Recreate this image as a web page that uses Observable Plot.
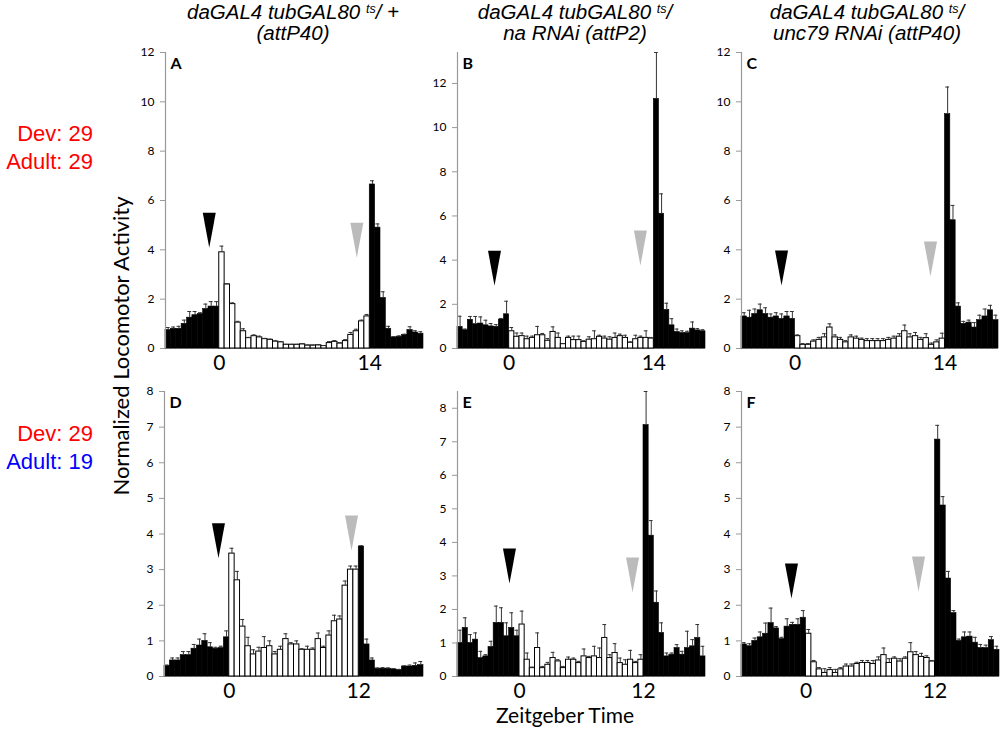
<!DOCTYPE html>
<html><head><meta charset="utf-8">
<script src="https://cdn.jsdelivr.net/npm/d3@7"></script>
<script src="https://cdn.jsdelivr.net/npm/@observablehq/plot@0.6"></script>
<style>
body{margin:0;background:#fff;}
#root{position:relative;width:1000px;height:731px;overflow:hidden;background:#fff;}
.lbl{position:absolute;white-space:nowrap;}
.hdr{position:absolute;top:1px;transform:translateX(-50%);font-family:"Liberation Sans",Arial,sans-serif;font-style:italic;font-size:20.5px;line-height:21px;text-align:center;white-space:nowrap;}
.hdr sup{font-size:12.5px;line-height:0;vertical-align:6px;}
.cond{position:absolute;left:0;width:93px;text-align:right;font-family:"Liberation Sans",Arial,sans-serif;font-size:22px;line-height:28px;}
svg{position:absolute;}
</style></head><body><div id="root"></div>
<script>
// ---- categories: 30-min bin starts (Zeitgeber Time, hours)
const binsLD14 = d3.range(-5, 19, 0.5);   // top row: 14h light : 10h dark
const binsLD12 = d3.range(-6, 18, 0.5);   // bottom row: 12h light : 12h dark
const lightsOffTop = 14, lightsOffBottom = 12;
const xTicksTop = [0, 14], xTicksBottom = [0, 12];

// ---- Panel A
const aMean = [0.75,0.8,0.8,1.0,1.25,1.35,1.4,1.6,1.7,1.7,
  3.9,2.6,1.8,1.05,0.7,0.42,0.5,0.45,0.38,0.35,0.28,0.25,0.15,0.15,0.15,0.17,0.12,0.12,0.13,0.1,0.22,0.27,0.2,0.3,0.55,0.7,1.1,1.3,
  6.65,4.9,2.05,0.8,0.45,0.48,0.55,0.75,0.65,0.6];
const aSem = [0.1,0.07,0.1,0.15,0.25,0.15,0.05,0.2,0.2,0.2,
  0.25,0.02,0.05,0.05,0.1,0.03,0.05,0.05,0.03,0.03,0.03,0.03,0.02,0.02,0.02,0.02,0.02,0.02,0.02,0.02,0.06,0.05,0.04,0.06,0.1,0.08,0.05,0.08,
  0.15,0.15,0.25,0.1,0.03,0.03,0.03,0.13,0.07,0.08];
// ---- Panel B
const bMean = [0.98,0.83,1.3,1.1,1.13,1.05,1.0,0.98,1.31,1.55,
  0.78,0.53,0.56,0.42,0.48,0.6,0.6,0.35,0.75,0.48,0.2,0.48,0.38,0.38,0.3,0.4,0.42,0.53,0.45,0.4,0.48,0.56,0.48,0.26,0.42,0.48,0.48,0.45,
  11.3,6.1,1.75,1.05,0.75,0.7,0.7,0.9,0.82,0.78];
const bSem = [0.48,0.05,0.15,0.35,0.3,0.23,0.13,0.1,0.05,0.59,
  0.17,0.17,0.14,0.14,0.08,0.4,0.08,0.1,0.23,0.22,0.02,0.08,0.18,0.18,0.05,0.13,0.38,0.07,0.11,0.13,0.22,0.09,0.12,0.04,0.18,0.08,0.32,0.05,
  2.1,0.9,0.3,0.3,0.13,0.1,0.08,0.3,0.08,0.07];
// ---- Panel C
const cMean = [1.3,1.25,1.4,1.55,1.4,1.25,1.3,1.2,1.3,1.2,
  0.5,0.15,0.15,0.28,0.35,0.45,0.85,0.45,0.35,0.25,0.45,0.4,0.35,0.3,0.3,0.3,0.3,0.35,0.4,0.48,0.7,0.45,0.5,0.35,0.42,0.15,0.25,0.4,
  9.5,5.2,1.7,1.0,1.05,0.85,1.15,1.3,1.55,1.15];
const cSem = [0.15,0.3,0.2,0.25,0.25,0.15,0.15,0.2,0.2,0.3,
  0.05,0.05,0.05,0.07,0.1,0.15,0.15,0.1,0.1,0.07,0.1,0.1,0.07,0.1,0.1,0.1,0.1,0.1,0.1,0.12,0.25,0.15,0.15,0.1,0.18,0.07,0.1,0.22,
  1.1,0.6,0.15,0.1,0.1,0.2,0.2,0.3,0.2,0.2];
// ---- Panel D
const dMean = [0.3,0.45,0.45,0.6,0.6,0.78,0.87,1.0,0.82,0.78,0.8,1.1,
  3.45,2.7,1.4,0.85,0.62,0.7,0.8,0.85,0.62,0.75,1.05,0.9,0.9,0.75,0.75,0.75,1.05,0.8,1.15,1.55,1.6,2.55,3.0,3.0,
  3.65,0.9,0.45,0.22,0.22,0.22,0.2,0.18,0.28,0.28,0.3,0.32];
const dSem = [0.02,0.07,0.07,0.1,0.1,0.12,0.18,0.2,0.13,0.04,0.05,0.18,
  0.15,0.25,0.2,0.25,0.13,0.12,0.32,0.15,0.08,0.1,0.15,0.05,0.1,0.03,0.1,0.05,0.17,0.05,0.13,0.17,0.1,0.13,0.1,0.1,
  0.02,0.15,0.07,0.02,0.03,0.02,0.02,0.02,0.02,0.04,0.08,0.1];
// ---- Panel E
const eMean = [1.0,1.45,1.0,1.1,0.55,0.6,0.88,1.6,1.6,1.2,1.45,1.2,
  1.55,0.5,0.25,0.85,0.25,0.35,0.55,0.45,0.25,0.5,0.5,0.4,0.6,0.55,0.6,0.55,1.15,0.55,0.7,0.4,0.35,0.5,0.4,0.5,
  7.5,4.2,2.2,1.3,0.6,0.65,0.85,0.65,0.85,0.9,1.15,0.6];
const eSem = [0.38,0.3,0.25,0.2,0.2,0.05,0.17,0.5,0.45,0.4,0.45,0.18,
  0.4,0.2,0.03,0.45,0.05,0.07,0.17,0.05,0.05,0.08,0.05,0.05,0.22,0.05,0.3,0.3,0.4,0.1,0.28,0.15,0.15,0.28,0.05,0.15,
  1.0,0.45,0.35,0.3,0.1,0.05,0.1,0.1,0.5,0.2,0.4,0.3];
// ---- Panel F
const fMean = [0.9,0.85,1.0,1.1,1.2,1.5,1.35,1.05,1.4,1.45,1.45,1.65,
  1.2,0.4,0.2,0.1,0.18,0.1,0.2,0.28,0.28,0.35,0.38,0.38,0.35,0.45,0.6,0.38,0.5,0.42,0.5,0.68,0.6,0.55,0.52,0.42,
  6.65,4.8,2.75,1.78,1.0,1.1,1.12,0.95,0.8,0.8,1.02,0.75];
const fSem = [0.05,0.07,0.08,0.15,0.3,0.42,0.05,0.05,0.22,0.07,0.17,0.2,
  0.12,0.05,0.05,0.12,0.07,0.1,0.05,0.07,0.07,0.05,0.07,0.07,0.1,0.1,0.2,0.12,0.05,0.08,0.05,0.27,0.1,0.1,0.06,0.03,
  0.4,0.25,0.2,0.07,0.05,0.15,0.13,0.15,0.1,0.08,0.1,0.1];

// ---- arrowheads (ZT, activity at arrow top)
const aArrows = [{x:-0.93,y:5.5,k:"morning"},{x:12.8,y:5.1,k:"evening"}];
const bArrows = [{x:-1.42,y:4.43,k:"morning"},{x:12.7,y:5.34,k:"evening"}];
const cArrows = [{x:-1.26,y:3.97,k:"morning"},{x:12.65,y:4.34,k:"evening"}];
const dArrows = [{x:-1.0,y:4.3,k:"morning"},{x:11.33,y:4.52,k:"evening"}];
const eArrows = [{x:-0.97,y:3.82,k:"morning"},{x:10.94,y:3.55,k:"evening"}];
const fArrows = [{x:-1.35,y:3.17,k:"morning"},{x:10.47,y:3.37,k:"evening"}];

const headers = [
  ["daGAL4 tubGAL80 <sup>ts</sup>/ +", "(attP40)"],
  ["daGAL4 tubGAL80 <sup>ts</sup>/", "na RNAi (attP2)"],
  ["daGAL4 tubGAL80 <sup>ts</sup>/", "unc79 RNAi (attP40)"]
];

// ---- layout (pixel frames of each plot area)
const root = document.getElementById("root");
const triangle = {draw(ctx, l, r) { ctx.moveTo(-r, 0); ctx.lineTo(r, 0); ctx.lineTo(0, -l); ctx.closePath(); }};

function panel(cfg) {
  const {letter, bins, mean, sem, lightsOff, yMax, yTicks, xTicks, arrows, frame} = cfg;
  const data = bins.map((t, i) => ({t, m: mean[i], s: sem[i], light: t >= 0 && t < lightsOff}));
  const ML = 45, MR = 3, MT = 3, MB = 40;
  const W = frame.x1 - frame.x0, H = frame.y0 - frame.y1;
  const svg = Plot.plot({
    width: W + ML + MR, height: H + MT + MB,
    marginLeft: ML, marginRight: MR, marginTop: MT, marginBottom: MB,
    x: {domain: [bins[0], bins[bins.length - 1] + 0.5]},
    y: {domain: [0, yMax]},
    style: {fontFamily: "Lato, 'Open Sans', sans-serif", background: "transparent", overflow: "visible", color: "black"},
    marks: [
      Plot.ruleY([0], {stroke: "#999"}),
      Plot.rectY(data.filter(d => !d.light), {x1: "t", x2: d => d.t + 0.5, y: "m", fill: "black", stroke: "black", strokeWidth: 0.6}),
      Plot.rectY(data.filter(d => d.light), {x1: "t", x2: d => d.t + 0.5, y: "m", fill: "white", stroke: "black", strokeWidth: 1}),
      Plot.ruleX(data, {x: d => d.t + 0.25, y1: "m", y2: d => d.m + d.s, stroke: "#333", strokeWidth: 1}),
      Plot.ruleY(data, {y: d => d.m + d.s, x1: d => d.t + 0.07, x2: d => d.t + 0.43, stroke: "#333", strokeWidth: 1}),
      Plot.ruleX([bins[0]], {stroke: "#999", strokeWidth: 1.2}),
      Plot.axisY({ticks: yTicks, tickSize: 5, tickPadding: 6, stroke: "#999", fill: "black", fontSize: 12, label: null, tickFormat: d => d}),
      Plot.axisX({ticks: xTicks, tickSize: 0, tickPadding: 7, fill: "black", fontSize: 21, label: null, tickFormat: d => d}),
      Plot.vector(arrows, {x: "x", y: "y", length: 35, r: 6.5, rotate: 180, anchor: "start", shape: triangle,
        fill: d => d.k === "morning" ? "black" : "#bbbbbb", stroke: "none"}),
      Plot.text([letter], {text: d => d, frameAnchor: "top-left", dx: 5, dy: 5, lineAnchor: "top", textAnchor: "start",
        fontSize: 16, fontWeight: "bold", fill: "black"})
    ]
  });
  svg.style.left = (frame.x0 - ML) + "px";
  svg.style.top = (frame.y1 - MT) + "px";
  root.appendChild(svg);
}

const ticks12 = [0,2,4,6,8,10,12], ticks8 = [0,1,2,3,4,5,6,7,8];
panel({letter: "A", bins: binsLD14, mean: aMean, sem: aSem, lightsOff: lightsOffTop, yMax: 12, yTicks: ticks12, xTicks: xTicksTop, arrows: aArrows, frame: {x0: 165, x1: 423, y1: 52, y0: 348}});
panel({letter: "B", bins: binsLD14, mean: bMean, sem: bSem, lightsOff: lightsOffTop, yMax: 13.4, yTicks: ticks12, xTicks: xTicksTop, arrows: bArrows, frame: {x0: 457, x1: 705, y1: 52, y0: 348}});
panel({letter: "C", bins: binsLD14, mean: cMean, sem: cSem, lightsOff: lightsOffTop, yMax: 12, yTicks: ticks12, xTicks: xTicksTop, arrows: cArrows, frame: {x0: 741, x1: 998, y1: 52, y0: 348}});
panel({letter: "D", bins: binsLD12, mean: dMean, sem: dSem, lightsOff: lightsOffBottom, yMax: 8, yTicks: ticks8, xTicks: xTicksBottom, arrows: dArrows, frame: {x0: 164, x1: 423, y1: 391, y0: 676}});
panel({letter: "E", bins: binsLD12, mean: eMean, sem: eSem, lightsOff: lightsOffBottom, yMax: 8.5, yTicks: ticks8, xTicks: xTicksBottom, arrows: eArrows, frame: {x0: 457, x1: 705, y1: 391, y0: 676}});
panel({letter: "F", bins: binsLD12, mean: fMean, sem: fSem, lightsOff: lightsOffBottom, yMax: 8, yTicks: ticks8, xTicks: xTicksBottom, arrows: fArrows, frame: {x0: 741, x1: 999, y1: 391, y0: 676}});

// ---- text labels
const hdrX = [293, 575, 867];
headers.forEach((h, i) => {
  const d = document.createElement("div");
  d.className = "hdr"; d.style.left = hdrX[i] + "px";
  d.innerHTML = h[0] + "<br>" + h[1];
  root.appendChild(d);
});
function cond(top, dev, adult, adultColor) {
  const d = document.createElement("div");
  d.className = "cond"; d.style.top = top + "px";
  d.innerHTML = `<span style="color:#ff0000">${dev}</span><br><span style="color:${adultColor}">${adult}</span>`;
  root.appendChild(d);
}
cond(120, "Dev: 29", "Adult: 29", "#ff0000");
cond(420, "Dev: 29", "Adult: 19", "#0000ff");

const yt = document.createElement("div");
yt.className = "lbl";
yt.style.cssText += "left:120px;top:346px;transform:translate(-50%,-50%) rotate(-90deg);font-family:Lato,sans-serif;font-size:22px;";
yt.textContent = "Normalized Locomotor Activity";
root.appendChild(yt);

const xt = document.createElement("div");
xt.className = "lbl";
xt.style.cssText += "left:565px;top:702px;transform:translateX(-50%);font-family:Lato,sans-serif;font-size:21px;line-height:25px;";
xt.textContent = "Zeitgeber Time";
root.appendChild(xt);
</script></body></html>
